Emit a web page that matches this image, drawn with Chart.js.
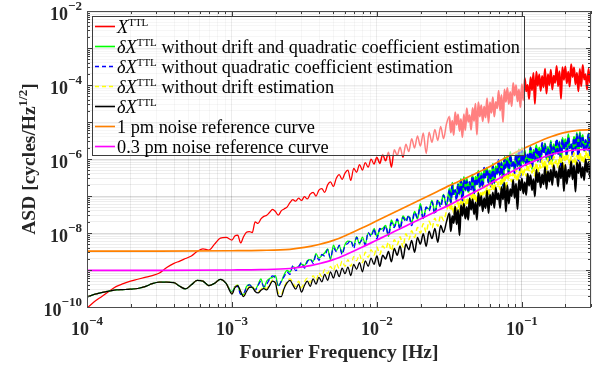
<!DOCTYPE html>
<html>
<head>
<meta charset="utf-8">
<script src="https://cdn.jsdelivr.net/npm/chart.js@4.4.1/dist/chart.umd.min.js"></script>
<style>
  html, body { margin: 0; padding: 0; background: #fff; }
  canvas { display: block; }
</style>
</head>
<body>
<canvas id="asdChart" width="611" height="366"></canvas>
<script>
// all values are log10 of frequency [Hz] and log10 of ASD [cycles/Hz^1/2]

// low-frequency part (smooth), shared grid
const lowLogF = [-4.00, -3.95, -3.90, -3.85, -3.80, -3.75, -3.70, -3.65, -3.60, -3.55,
  -3.50, -3.45, -3.40, -3.36, -3.32, -3.28, -3.24, -3.20, -3.16, -3.12, -3.08, -3.04];
const redLow = [-10.03, -9.86, -9.72, -9.58, -9.45, -9.37, -9.30, -9.25, -9.20, -9.15,
  -9.08, -8.93, -8.82, -8.76, -8.69, -8.62, -8.50, -8.43, -8.46, -8.30, -8.14, -8.12];
// the four residual curves coincide below 1 mHz
const residualLow = [-9.73, -9.66, -9.61, -9.57, -9.54, -9.53, -9.52, -9.50, -9.45, -9.37,
  -9.33, -9.33, -9.34, -9.44, -9.51, -9.40, -9.28, -9.30, -9.42, -9.36, -9.25, -9.36];

// noisy part, shared grid
const logF = [
  -3.00, -2.98, -2.96, -2.94, -2.92, -2.90, -2.88, -2.86, -2.84, -2.82,
  -2.80, -2.78, -2.76, -2.74, -2.72, -2.70, -2.68, -2.66, -2.64, -2.62,
  -2.60, -2.58, -2.56, -2.54, -2.52, -2.50, -2.48, -2.46, -2.44, -2.42,
  -2.40, -2.38, -2.36, -2.34, -2.32, -2.30, -2.28, -2.26, -2.24, -2.22,
  -2.20, -2.18, -2.16, -2.14, -2.12, -2.10, -2.08, -2.06, -2.04, -2.02,
  -2.00, -1.98, -1.96, -1.94, -1.92, -1.90, -1.88, -1.86, -1.84, -1.82,
  -1.80, -1.78, -1.76, -1.74, -1.72, -1.70, -1.68, -1.66, -1.64, -1.62,
  -1.60, -1.58, -1.56, -1.54, -1.52,
  -1.50, -1.49, -1.48, -1.47, -1.46, -1.45, -1.44, -1.43, -1.42, -1.41,
  -1.40, -1.39, -1.38, -1.37, -1.36, -1.35, -1.34, -1.33, -1.32, -1.31,
  -1.30, -1.29, -1.28, -1.27, -1.26, -1.25, -1.24, -1.23, -1.22, -1.21,
  -1.20, -1.19, -1.18, -1.17, -1.16, -1.15, -1.14, -1.13, -1.12, -1.11,
  -1.10, -1.09, -1.08, -1.07, -1.06, -1.05, -1.04, -1.03, -1.02, -1.01,
  -1.00, -0.99, -0.98, -0.97, -0.96, -0.95, -0.94, -0.93, -0.92, -0.91,
  -0.90, -0.89, -0.88, -0.87, -0.86, -0.85, -0.84, -0.83, -0.82, -0.81,
  -0.80, -0.79, -0.78, -0.77, -0.76, -0.75, -0.74, -0.73, -0.72, -0.71,
  -0.70, -0.69, -0.68, -0.67, -0.66, -0.65, -0.64, -0.63, -0.62, -0.61,
  -0.60, -0.59, -0.58, -0.57, -0.56, -0.55, -0.54, -0.53, -0.52
];

const redHigh = [
  -8.19, -8.08, -8.06, -8.27, -8.10, -7.98, -7.96, -7.99, -7.70, -7.74,
  -7.62, -7.55, -7.52, -7.44, -7.36, -7.42, -7.52, -7.40, -7.35, -7.30,
  -7.18, -7.10, -7.14, -7.06, -7.12, -7.02, -7.08, -6.95, -6.90, -7.00,
  -6.84, -6.80, -6.90, -6.70, -6.62, -6.74, -6.52, -6.42, -6.55, -6.38,
  -6.30, -6.58, -6.25, -6.36, -6.15, -6.30, -6.10, -6.22, -6.00, -6.14,
  -5.95, -6.12, -5.88, -6.05, -5.82, -6.22, -5.75, -5.90, -5.68, -5.95,
  -5.60, -5.80, -5.45, -5.70, -5.38, -5.65, -5.30, -5.85, -5.28, -5.55,
  -5.20, -5.50, -5.12, -5.45, -5.05,
  -4.85, -5.28, -4.97, -5.35, -4.74, -5.07, -4.80, -5.24, -4.92, -5.41,
  -4.79, -5.22, -4.63, -4.99, -4.82, -5.21, -4.62, -4.97, -4.51, -5.34,
  -4.47, -4.85, -4.55, -4.98, -4.58, -4.88, -4.36, -5.02, -4.47, -4.75,
  -4.33, -4.85, -4.46, -4.63, -4.16, -4.69, -4.27, -5.00, -4.12, -4.45,
  -4.08, -4.51, -4.19, -4.57, -3.95, -4.28, -4.01, -4.44, -4.12, -4.60,
  -3.98, -4.41, -3.81, -4.17, -4.00, -4.38, -3.79, -4.14, -3.68, -4.51,
  -3.64, -4.02, -3.72, -4.16, -3.76, -4.06, -3.56, -4.23, -3.71, -4.00,
  -3.59, -4.12, -3.75, -3.94, -3.49, -4.03, -3.63, -4.37, -3.52, -3.86,
  -3.50, -3.95, -3.64, -4.04, -3.44, -3.78, -3.53, -3.98, -3.67, -4.17,
  -3.57, -4.03, -3.46, -3.85, -3.71, -4.12, -3.56, -3.94, -3.50
];

const greenHigh = [
  -9.59, -9.46, -9.41, -9.65, -9.66, -9.45, -9.39, -9.48, -9.53, -9.40,
  -9.24, -9.48, -9.30, -9.23, -9.20, -9.15, -9.42, -9.32, -9.13, -9.01,
  -9.06, -8.91, -8.94, -8.90, -8.84, -8.88, -8.75, -8.72, -8.77, -8.56,
  -8.68, -8.61, -8.54, -8.43, -8.72, -8.33, -8.47, -8.35, -8.53, -8.31,
  -8.22, -8.23, -8.34, -8.10, -8.30, -8.11, -8.29, -8.00, -8.05, -7.88,
  -8.09, -7.91, -7.88, -7.80, -8.09, -7.65, -7.82, -7.64, -7.85, -7.54,
  -7.64, -7.55, -7.72, -7.42, -7.62, -7.21, -7.61, -7.32, -7.35, -7.12,
  -7.44, -7.13, -7.22, -6.96, -7.29,
  -6.79, -7.19, -6.64, -6.95, -6.88, -7.05, -6.67, -6.96, -6.54, -7.15,
  -6.49, -6.85, -6.52, -6.89, -6.66, -6.75, -6.43, -6.95, -6.48, -6.69,
  -6.32, -6.77, -6.38, -6.75, -6.28, -6.45, -6.24, -6.65, -6.31, -6.73,
  -6.13, -6.66, -6.20, -6.41, -6.07, -6.39, -6.08, -6.74, -5.95, -6.22,
  -5.97, -6.42, -5.81, -6.17, -6.08, -6.31, -5.86, -6.20, -5.74, -6.44,
  -5.70, -6.11, -5.76, -6.18, -5.92, -6.05, -5.67, -6.27, -5.75, -6.00,
  -5.62, -6.07, -5.69, -6.06, -5.61, -5.79, -5.58, -6.00, -5.67, -6.10,
  -5.51, -6.05, -5.60, -5.83, -5.50, -5.83, -5.53, -6.20, -5.43, -5.71,
  -5.47, -5.93, -5.33, -5.69, -5.62, -5.85, -5.40, -5.75, -5.29, -6.00,
  -5.27, -5.69, -5.35, -5.78, -5.53, -5.68, -5.31, -5.91, -5.41
];

const blueHigh = [
  -9.62, -9.45, -9.45, -9.66, -9.64, -9.48, -9.40, -9.47, -9.55, -9.42,
  -9.30, -9.45, -9.38, -9.25, -9.16, -9.22, -9.45, -9.30, -9.18, -9.05,
  -9.12, -8.88, -9.02, -8.92, -8.80, -8.95, -8.78, -8.70, -8.82, -8.60,
  -8.74, -8.58, -8.62, -8.45, -8.68, -8.40, -8.50, -8.33, -8.58, -8.35,
  -8.28, -8.20, -8.42, -8.12, -8.26, -8.18, -8.32, -7.98, -8.10, -7.92,
  -8.15, -7.88, -7.96, -7.82, -8.05, -7.72, -7.85, -7.62, -7.90, -7.58,
  -7.70, -7.52, -7.80, -7.44, -7.58, -7.28, -7.64, -7.30, -7.40, -7.16,
  -7.50, -7.10, -7.30, -6.98, -7.25,
  -6.85, -7.16, -6.72, -6.97, -6.84, -7.12, -6.70, -6.94, -6.59, -7.19,
  -6.55, -6.82, -6.60, -6.91, -6.62, -6.82, -6.46, -6.93, -6.53, -6.73,
  -6.38, -6.74, -6.46, -6.77, -6.24, -6.52, -6.27, -6.63, -6.36, -6.77,
  -6.19, -6.63, -6.28, -6.43, -6.03, -6.46, -6.11, -6.72, -6.00, -6.26,
  -6.03, -6.39, -5.89, -6.19, -6.04, -6.38, -5.89, -6.18, -5.79, -6.48,
  -5.76, -6.08, -5.84, -6.20, -5.88, -6.12, -5.70, -6.25, -5.80, -6.04,
  -5.68, -6.04, -5.77, -6.08, -5.57, -5.86, -5.61, -5.98, -5.72, -6.14,
  -5.57, -6.02, -5.68, -5.85, -5.46, -5.90, -5.56, -6.18, -5.48, -5.75,
  -5.53, -5.90, -5.41, -5.71, -5.58, -5.92, -5.43, -5.73, -5.34, -6.04,
  -5.33, -5.66, -5.43, -5.80, -5.49, -5.75, -5.34, -5.89, -5.46
];

const yellowHigh = [
  -9.63, -9.46, -9.41, -9.56, -9.70, -9.55, -9.45, -9.44, -9.56, -9.58,
  -9.52, -9.46, -9.50, -9.38, -9.27, -9.30, -9.62, -9.66, -9.46, -9.30,
  -9.24, -9.33, -9.45, -9.30, -9.48, -9.32, -9.22, -9.34, -9.15, -9.28,
  -9.08, -9.18, -8.98, -9.10, -8.90, -9.02, -8.82, -8.96, -8.76, -8.90,
  -8.72, -8.90, -8.64, -8.75, -8.58, -8.80, -8.52, -8.66, -8.45, -8.60,
  -8.38, -8.58, -8.35, -8.44, -8.25, -8.48, -8.18, -8.32, -8.10, -8.38,
  -8.02, -8.18, -7.94, -8.12, -7.85, -8.00, -7.75, -7.98, -7.68, -7.86,
  -7.60, -7.82, -7.52, -7.66, -7.42,
  -7.22, -7.40, -7.24, -7.45, -7.24, -7.38, -7.10, -7.42, -7.14, -7.27,
  -7.04, -7.25, -7.07, -7.25, -6.93, -7.09, -6.92, -7.13, -6.96, -7.20,
  -6.84, -7.10, -6.88, -6.97, -6.72, -6.97, -6.75, -7.11, -6.66, -6.81,
  -6.66, -6.87, -6.56, -6.73, -6.63, -6.82, -6.51, -6.68, -6.43, -6.82,
  -6.38, -6.56, -6.40, -6.61, -6.40, -6.54, -6.28, -6.60, -6.33, -6.46,
  -6.24, -6.45, -6.28, -6.46, -6.15, -6.31, -6.16, -6.37, -6.21, -6.45,
  -6.10, -6.36, -6.15, -6.24, -6.00, -6.25, -6.04, -6.41, -5.98, -6.14,
  -6.00, -6.23, -5.93, -6.11, -6.03, -6.23, -5.93, -6.12, -5.88, -6.29,
  -5.87, -6.06, -5.91, -6.14, -5.94, -6.09, -5.84, -6.17, -5.91, -6.05,
  -5.83, -6.06, -5.90, -6.10, -5.80, -5.98, -5.84, -6.07, -5.92
];

const blackHigh = [
  -9.65, -9.48, -9.42, -9.58, -9.72, -9.58, -9.47, -9.46, -9.58, -9.62,
  -9.55, -9.50, -9.54, -9.42, -9.30, -9.35, -9.70, -9.72, -9.50, -9.35,
  -9.28, -9.40, -9.52, -9.38, -9.60, -9.42, -9.30, -9.44, -9.24, -9.38,
  -9.20, -9.32, -9.12, -9.28, -9.05, -9.22, -9.00, -9.18, -8.95, -9.10,
  -8.92, -9.15, -8.85, -8.98, -8.80, -9.05, -8.75, -8.90, -8.68, -8.85,
  -8.62, -8.90, -8.60, -8.70, -8.50, -8.78, -8.42, -8.60, -8.35, -8.70,
  -8.30, -8.45, -8.20, -8.52, -8.12, -8.30, -8.02, -8.36, -7.95, -8.15,
  -7.88, -8.25, -7.80, -7.98, -7.70,
  -7.46, -7.95, -7.55, -7.73, -7.29, -7.76, -7.38, -8.06, -7.25, -7.53,
  -7.21, -7.61, -7.30, -7.64, -7.06, -7.37, -7.09, -7.49, -7.18, -7.64,
  -6.92, -7.27, -7.00, -7.41, -7.06, -7.33, -6.86, -7.46, -6.97, -7.24,
  -6.91, -7.32, -6.77, -7.09, -6.93, -7.32, -6.76, -7.09, -6.65, -7.42,
  -6.71, -7.20, -6.82, -7.00, -6.57, -7.05, -6.67, -7.36, -6.56, -6.84,
  -6.53, -6.93, -6.63, -6.97, -6.40, -6.72, -6.44, -6.84, -6.55, -7.01,
  -6.29, -6.63, -6.37, -6.77, -6.42, -6.68, -6.22, -6.81, -6.33, -6.61,
  -6.29, -6.70, -6.17, -6.49, -6.34, -6.74, -6.19, -6.52, -6.10, -6.87,
  -6.16, -6.67, -6.29, -6.48, -6.06, -6.55, -6.18, -6.88, -6.09, -6.38,
  -6.08, -6.50, -6.22, -6.57, -6.01, -6.35, -6.09, -6.50, -6.22
];

// noise reference curves
const refLogF = [-4.0, -3.5, -3.0, -2.8, -2.6, -2.5, -2.4, -2.3, -2.2, -2.1, -2.0, -1.9, -1.8,
  -1.7, -1.6, -1.5, -1.4, -1.3, -1.2, -1.1, -1.0, -0.9, -0.8, -0.7, -0.6, -0.52];
const ref1pm = [-8.49, -8.49, -8.48, -8.47, -8.44, -8.39, -8.31, -8.20, -8.04, -7.86, -7.67, -7.48, -7.29,
  -7.10, -6.91, -6.72, -6.54, -6.36, -6.16, -5.94, -5.74, -5.56, -5.40, -5.28, -5.22, -5.21];
const ref03pm = [-9.01, -9.01, -9.00, -8.99, -8.96, -8.91, -8.83, -8.72, -8.56, -8.38, -8.19, -8.00, -7.81,
  -7.62, -7.43, -7.24, -7.04, -6.84, -6.62, -6.40, -6.20, -6.03, -5.88, -5.79, -5.75, -5.74];

const xLabelExps = [-4, -3, -2, -1];
const yLabelExps = [-10, -8, -6, -4, -2];

const serif = "'Liberation Serif', 'Times New Roman', serif";

function toPoints(fs, vs) {
  return fs.map((f, i) => ({ x: Math.pow(10, f), y: Math.pow(10, vs[i]) }));
}

// noisy curves get a heavier stroke where the spectrum is densely sampled
function noisyWidth(c) {
  const x = c.p0.parsed.x;
  if (x >= 0.0315) return 2.1;
  if (x >= 0.0095) return 1.5;
  return 1.25;
}

function lineSet(label, fs, vs, color, opts) {
  return Object.assign({
    label: label,
    data: toPoints(fs, vs),
    borderColor: color,
    borderWidth: 1.25,
    pointRadius: 0,
    fill: false,
    cubicInterpolationMode: "monotone",
    segment: { borderWidth: noisyWidth },
  }, opts || {});
}

// MATLAB-style grid: every 1..9 x 10^n
function decadeTicks(minExp, maxVal) {
  const out = [];
  for (let e = minExp; Math.pow(10, e) <= maxVal; e++) {
    for (let m = 1; m <= 9; m++) {
      const v = m * Math.pow(10, e);
      if (v <= maxVal * 1.0001) out.push(v);
    }
  }
  return out;
}
function isMajor(v) {
  const l = Math.log10(v);
  return Math.abs(l - Math.round(l)) < 1e-6;
}

const xGrid = decadeTicks(-4, 0.3);
const yGrid = decadeTicks(-10, 1e-2);

function drawParts(ctx, parts, x, y) {
  let cx = x;
  for (const [text, font, dy] of parts) {
    ctx.font = font;
    ctx.fillText(text, cx, y + dy);
    cx += ctx.measureText(text).width;
  }
  return cx;
}
function partsWidth(ctx, parts) {
  let w = 0;
  for (const [text, font] of parts) {
    ctx.font = font;
    w += ctx.measureText(text).width;
  }
  return w;
}
function powerParts(exp) {
  return [["10", "bold 18px " + serif, 0], ["\u2212" + Math.abs(exp), "bold 13px " + serif, -10]];
}

const legendItems = [
  { color: "#ff0000", dash: [], pre: "", tail: "" },
  { color: "#00ff00", dash: [], pre: "\u03b4", tail: " without drift and quadratic coefficient estimation" },
  { color: "#0000ff", dash: [4, 3], pre: "\u03b4", tail: " without quadratic coefficient estimation" },
  { color: "#ffff00", dash: [4, 3], pre: "\u03b4", tail: " without drift estimation" },
  { color: "#000000", dash: [], pre: "\u03b4", tail: "" },
  { color: "#ff8000", dash: [], text: "1 pm noise reference curve" },
  { color: "#ff00ff", dash: [], text: "0.3 pm noise reference curve" },
];

const decorPlugin = {
  id: "decor",
  beforeDraw(chart) {
    const ctx = chart.ctx;
    ctx.save();
    ctx.fillStyle = "#ffffff";
    ctx.fillRect(0, 0, chart.width, chart.height);
    ctx.restore();
  },
  afterDatasetsDraw(chart) {
    // semi-transparent legend box, drawn over the data
    const ctx = chart.ctx;
    const bx = 92, by = 16, bw = 432, bh = 139;
    ctx.save();
    ctx.fillStyle = "rgba(255,255,255,0.5)";
    ctx.fillRect(bx, by, bw, bh);
    ctx.strokeStyle = "#3c3c3c";
    ctx.lineWidth = 1;
    ctx.strokeRect(bx + 0.5, by + 0.5, bw, bh);
    ctx.textBaseline = "alphabetic";
    ctx.fillStyle = "#000";
    legendItems.forEach((item, i) => {
      const cy = 26.5 + i * 20;
      ctx.beginPath();
      ctx.setLineDash(item.dash);
      ctx.strokeStyle = item.color;
      ctx.lineWidth = 1.6;
      ctx.moveTo(95, cy);
      ctx.lineTo(115, cy);
      ctx.stroke();
      ctx.setLineDash([]);
      const base = cy + 6;
      if (item.text) {
        drawParts(ctx, [[item.text, "18.3px " + serif, 0]], 117, base);
      } else {
        const parts = [];
        if (item.pre) parts.push([item.pre, "italic 18.3px " + serif, 0]);
        parts.push(["X", "italic 18.3px " + serif, 0]);
        parts.push(["TTL", "11px " + serif, -7]);
        if (item.tail) parts.push([item.tail, "18.3px " + serif, 0]);
        drawParts(ctx, parts, 117, base);
      }
    });
    ctx.restore();
  },
  afterDraw(chart) {
    const ctx = chart.ctx;
    const a = chart.chartArea;
    const xs = chart.scales.x, ys = chart.scales.y;
    ctx.save();
    // tick marks inside the box on all four sides
    ctx.strokeStyle = "#3c3c3c";
    ctx.lineWidth = 1;
    ctx.beginPath();
    for (const v of xGrid) {
      const px = Math.round(xs.getPixelForValue(v)) + 0.5;
      const len = isMajor(v) ? 5 : 3;
      ctx.moveTo(px, a.bottom); ctx.lineTo(px, a.bottom - len);
      ctx.moveTo(px, a.top); ctx.lineTo(px, a.top + len);
    }
    for (const v of yGrid) {
      const py = Math.round(ys.getPixelForValue(v)) + 0.5;
      const len = isMajor(v) ? 5 : 3;
      ctx.moveTo(a.left, py); ctx.lineTo(a.left + len, py);
      ctx.moveTo(a.right, py); ctx.lineTo(a.right - len, py);
    }
    ctx.stroke();
    ctx.strokeStyle = "#4d4d4d";
    ctx.strokeRect(Math.round(a.left) + 0.5, Math.round(a.top) + 0.5,
      Math.round(a.right - a.left) - 1, Math.round(a.bottom - a.top));

    // tick labels
    ctx.fillStyle = "#262626";
    ctx.textBaseline = "alphabetic";
    for (const e of xLabelExps) {
      const px = xs.getPixelForValue(Math.pow(10, e));
      const parts = powerParts(e);
      const w = partsWidth(ctx, parts);
      drawParts(ctx, parts, px - w / 2, 335);
    }
    for (const e of yLabelExps) {
      const py = ys.getPixelForValue(Math.pow(10, e));
      const parts = powerParts(e);
      const w = partsWidth(ctx, parts);
      drawParts(ctx, parts, 82 - w, py + 9);
    }

    // axis titles
    ctx.font = "bold 19.5px " + serif;
    ctx.textAlign = "center";
    ctx.fillText("Fourier Frequency [Hz]", (a.left + a.right) / 2, 358);
    ctx.textAlign = "left";
    const yt = [["ASD [cycles/Hz", "bold 19.5px " + serif, 0], ["1/2", "bold 13px " + serif, -8],
      ["]", "bold 19.5px " + serif, 0]];
    const tw = partsWidth(ctx, yt);
    ctx.translate(35, (a.top + a.bottom) / 2);
    ctx.rotate(-Math.PI / 2);
    drawParts(ctx, yt, -tw / 2, 0);
    ctx.restore();
  },
};

const datasets = [
  lineSet("X TTL", lowLogF.concat(logF), redLow.concat(redHigh), "#ff0000", { order: 7 }),
  lineSet("dX without drift and quadratic", lowLogF.concat(logF), residualLow.concat(greenHigh), "#00ff00", { order: 6 }),
  lineSet("dX without quadratic", lowLogF.concat(logF), residualLow.concat(blueHigh), "#0000ff", { order: 5, borderDash: [5, 3] }),
  lineSet("dX without drift", lowLogF.concat(logF), residualLow.concat(yellowHigh), "#ffff00", { order: 4, borderDash: [5, 3] }),
  lineSet("dX", lowLogF.concat(logF), residualLow.concat(blackHigh), "#000000", { order: 3 }),
  lineSet("1 pm", refLogF, ref1pm, "#ff8000", { order: 2, borderWidth: 1.7, segment: {} }),
  lineSet("0.3 pm", refLogF, ref03pm, "#ff00ff", { order: 1, borderWidth: 1.7, segment: {} }),
];

new Chart(document.getElementById("asdChart"), {
  type: "line",
  data: { datasets: datasets },
  options: {
    responsive: false,
    devicePixelRatio: 1,
    animation: false,
    events: [],
    layout: { padding: { top: 11, right: 20, left: 0, bottom: 0 } },
    plugins: { legend: { display: false }, tooltip: { enabled: false } },
    scales: {
      x: {
        type: "logarithmic",
        min: 1e-4,
        max: 0.3,
        afterBuildTicks: (scale) => { scale.ticks = xGrid.map((v) => ({ value: v })); },
        afterFit: (scale) => { scale.height = 59; },
        ticks: { display: false },
        border: { display: false },
        grid: {
          drawTicks: false,
          color: (c) => (c.tick && isMajor(c.tick.value) ? "rgba(0,0,0,0.15)" : "rgba(0,0,0,0.07)"),
          lineWidth: 1,
        },
      },
      y: {
        type: "logarithmic",
        min: 1e-10,
        max: 1e-2,
        afterBuildTicks: (scale) => { scale.ticks = yGrid.map((v) => ({ value: v })); },
        afterFit: (scale) => { scale.width = 87; },
        ticks: { display: false },
        border: { display: false },
        grid: {
          drawTicks: false,
          color: (c) => (c.tick && isMajor(c.tick.value) ? "rgba(0,0,0,0.15)" : "rgba(0,0,0,0.07)"),
          lineWidth: 1,
        },
      },
    },
  },
  plugins: [decorPlugin],
});
</script>
</body>
</html>
